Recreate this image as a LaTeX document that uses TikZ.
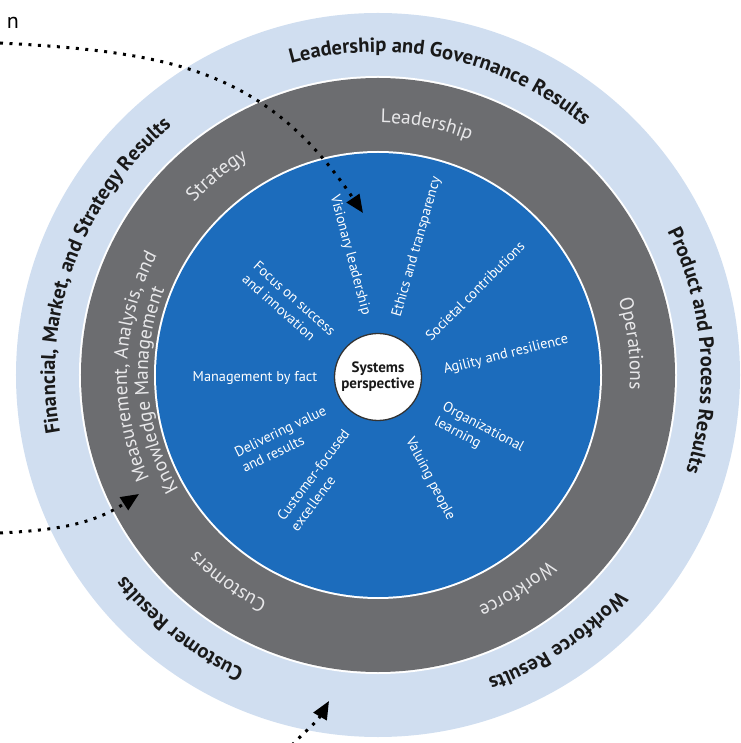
\documentclass[tikz,border=0pt]{standalone}
\usepackage{fontspec}
\setmainfont{PT Sans}
\usetikzlibrary{decorations.text,arrows.meta}
\definecolor{ringlight}{RGB}{208,222,240}
\definecolor{ringgray}{RGB}{108,109,112}
\definecolor{coreblue}{RGB}{28,108,188}
\definecolor{darktext}{RGB}{25,25,25}
\definecolor{lighttext}{RGB}{232,232,234}
\newcommand\ringtext[4]{%
  \path[decorate,decoration={text along path,text align=center,text={|#3|#4}}]
    ({#2+80}:#1) arc[start angle={#2+80}, end angle={#2-80}, radius=#1];}
\begin{document}
\begin{tikzpicture}[x=1pt,y=1pt,
  coretext/.style={text=white, font=\fontsize{14.3}{17}\selectfont, align=left, inner sep=0pt},
  dotarrow/.style={black, line width=3pt, dash pattern=on 3pt off 6.5pt, -{Triangle[length=18pt,width=15pt]}},
  ]
\useasboundingbox (-378,-368) rectangle (362,375);
% rings
\fill[ringlight] (0,0) circle[radius=362];
\fill[white] (0,0) circle[radius=299];
\fill[ringgray] (0,0) circle[radius=297];
\fill[white] (0,0) circle[radius=224];
\fill[coreblue] (0,0) circle[radius=222];
% outer ring texts
\ringtext{323}{78}{\color{darktext}\fontsize{20.5}{20.5}\selectfont\bfseries}{Leadership and Governance Results}
\ringtext{323}{4.5}{\color{darktext}\fontsize{20.5}{20.5}\selectfont\bfseries}{Product and Process Results}
\ringtext{323}{-56}{\color{darktext}\fontsize{20.5}{20.5}\selectfont\bfseries}{Workforce Results}
\ringtext{323}{-128}{\color{darktext}\fontsize{20.5}{20.5}\selectfont\bfseries}{Customer Results}
\ringtext{323}{160}{\color{darktext}\fontsize{20.5}{20.5}\selectfont\bfseries}{Financial, Market, and Strategy Results}
% gray ring texts
\ringtext{252}{79}{\color{lighttext}\fontsize{19.5}{19.5}\selectfont}{Leadership}
\ringtext{252}{129}{\color{lighttext}\fontsize{19.5}{19.5}\selectfont}{Strategy}
\ringtext{252}{7}{\color{lighttext}\fontsize{19.5}{19.5}\selectfont}{Operations}
\ringtext{252}{-57}{\color{lighttext}\fontsize{19.5}{19.5}\selectfont}{Workforce}
\ringtext{252}{-126}{\color{lighttext}\fontsize{19.5}{19.5}\selectfont}{Customers}
\ringtext{251}{178}{\color{lighttext}\fontsize{19.5}{19.5}\selectfont}{Measurement, Analysis, and}
\ringtext{230}{184}{\color{lighttext}\fontsize{19.5}{19.5}\selectfont}{Knowledge Management}
% core values
\node[coretext, rotate=-75] (vis) at (-28,120) {Visionary leadership};
\node[coretext, rotate=74] (eth) at (39,128) {Ethics and transparency};
\node[coretext, rotate=45] (soc) at (97,84) {Societal contributions};
\node[coretext, rotate=14] (agi) at (128,20) {Agility and resilience};
\node[coretext, rotate=-28] (org) at (101,-60) {Organizational\\learning};
\node[coretext, rotate=-62.5] (val) at (52,-104) {Valuing people};
\node[coretext, rotate=53] (cus) at (-58,-105) {Customer-focused\\excellence};
\node[coretext, rotate=26] (del) at (-94,-64) {Delivering value\\and results};
\node[coretext] (man) at (-123,-3) {Management by fact};
\node[coretext, rotate=-41.5] (foc) at (-89,70) {Focus on success\\and innovation};
% center
\node[circle, draw=black!80, line width=1.3pt, fill=white, minimum size=87pt, inner sep=0pt,
  font=\fontsize{15}{16}\selectfont\bfseries, align=center, text=darktext] (sys) at (0,-2) {Systems\\perspective};
% cut-off label
\node[anchor=base east, inner sep=0pt, font=\fontsize{22}{22}\selectfont] (lbln) at (-359,346) {n};
% dotted arrows
\coordinate (a1s) at (-378,332);
\coordinate (a1e) at (-15,162);
\coordinate (a2s) at (-378,-158);
\coordinate (a2e) at (-239,-119);
\coordinate (a3s) at (-86,-370);
\coordinate (a3e) at (-49,-326);
\draw[dotarrow] (a1s) to[out=-3, in=124, looseness=1.1] (a1e);
\draw[dotarrow] (a2s) to[out=3, in=213] (a2e);
\draw[dotarrow] (a3s) to[out=45, in=-120] (a3e);
\end{tikzpicture}
\end{document}
